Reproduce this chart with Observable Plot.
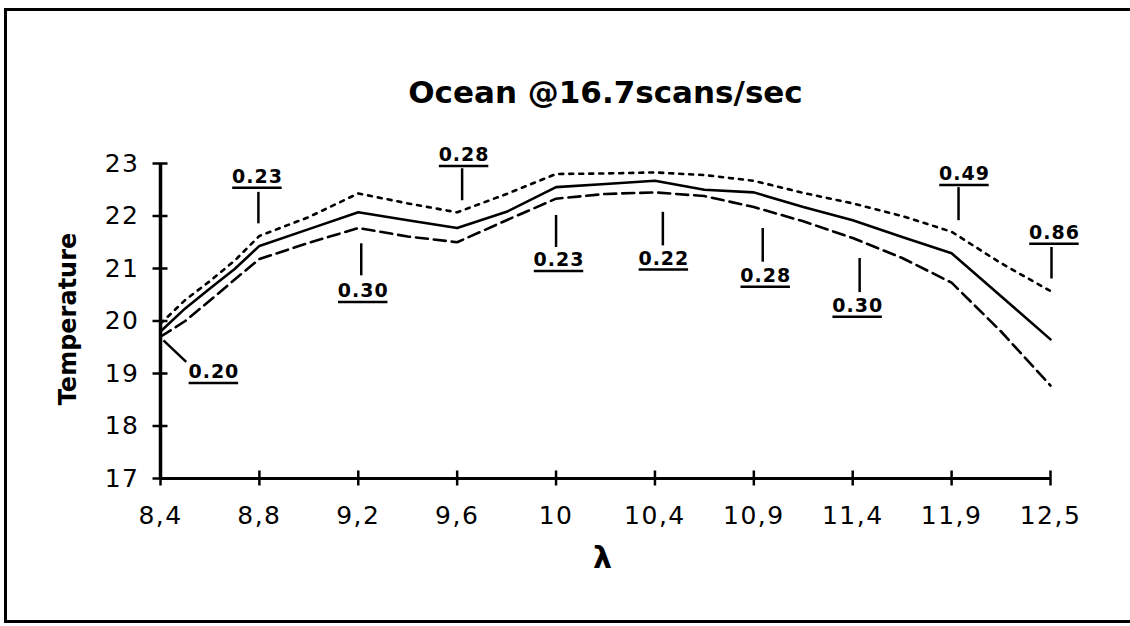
<!DOCTYPE html>
<html><head><meta charset="utf-8">
<script src="https://cdn.jsdelivr.net/npm/d3@7"></script>
<script src="https://cdn.jsdelivr.net/npm/@observablehq/plot@0.6"></script>
<style>
html,body{margin:0;padding:0;background:#fff;}
#wrap{position:relative;width:1130px;height:626px;overflow:hidden;background:#fff;}
#border{position:absolute;left:4px;top:8px;width:1200px;height:615px;border:3px solid #000;box-sizing:border-box;pointer-events:none;}
g[aria-label="x-axis tick label"] text, g[aria-label="y-axis tick label"] text { letter-spacing: 1.5px; }
.annot text { letter-spacing: 1px; }
</style></head>
<body><div id="wrap"><div id="chart"></div><div id="border"></div></div>
<script>
const title = "Ocean @16.7scans/sec";
const xLabel = "λ";
const yLabel = "Temperature";
const tickLabels = ["8,4","8,8","9,2","9,6","10","10,4","10,9","11,4","11,9","12,5"];
const yTicks = [17,18,19,20,21,22,23];
const xIdx   = [0,0.25,0.5,0.75,1,1.5,2,2.5,3,3.5,4,4.5,5,5.5,6,6.5,7,7.5,8,8.5,9];
const solid  = [19.8,20.24,20.62,20.99,21.43,21.75,22.07,21.92,21.77,22.08,22.55,22.61,22.67,22.5,22.45,22.17,21.92,21.6,21.29,20.47,19.65];
const dotted = [19.95,20.4,20.76,21.15,21.62,21.98,22.43,22.24,22.07,22.42,22.8,22.81,22.83,22.78,22.67,22.44,22.24,22.0,21.7,21.1,20.57];
const dashed = [19.7,20.0,20.39,20.79,21.18,21.49,21.77,21.61,21.5,21.92,22.33,22.42,22.45,22.38,22.17,21.9,21.58,21.2,20.73,19.8,18.77];

const annLabels = ["0.20","0.23","0.30","0.28","0.23","0.22","0.28","0.30","0.49","0.86"];
const annX      = [0.54,0.98,2.05,3.07,4.03,5.09,6.12,7.05,8.13,9.04];
const annY      = [19.03,22.75,20.57,23.16,21.16,21.19,20.86,20.29,22.8,21.68];
const leadX1    = [0.03,0.99,2.03,3.05,4.0,5.08,6.09,7.07,8.07,9.01];
const leadY1    = [19.63,22.46,21.48,22.91,22.02,22.08,21.77,21.2,22.55,21.41];
const leadX2    = [0.26,0.99,2.03,3.05,4.0,5.08,6.09,7.07,8.07,9.01];
const leadY2    = [19.22,21.86,20.87,22.30,21.41,21.44,21.13,20.55,21.92,20.81];

const series = [
  {name: "solid", values: solid, dash: null},
  {name: "dotted", values: dotted, dash: "4,6"},
  {name: "dashed", values: dashed, dash: "12,6"}
];
const ann = annLabels.map((t, i) => ({t, x: annX[i], y: annY[i], x1: leadX1[i], y1: leadY1[i], x2: leadX2[i], y2: leadY2[i]}));

const lineMarks = series.map(s => Plot.line(xIdx.map((x, i) => ({x, y: s.values[i]})), {
  x: "x", y: "y", stroke: "#000", strokeWidth: 2.6, strokeDasharray: s.dash, strokeLinejoin: "round", curve: "linear"
}));

const chart = Plot.plot({
  width: 1130, height: 626,
  marginLeft: 160, marginRight: 80, marginTop: 163, marginBottom: 148,
  style: {fontFamily: "DejaVu Sans", fontSize: "25px", color: "#000", background: "transparent", overflow: "visible"},
  x: {domain: [0, 9], axis: null},
  y: {domain: [17, 23], axis: null},
  marks: [
    Plot.ruleX([0], {stroke: "#000", strokeWidth: 3.5}),
    Plot.ruleY([17], {stroke: "#000", strokeWidth: 3}),
    Plot.axisY({ticks: yTicks, tickSize: 15, dx: 7.5, fill: "none", stroke: "#000", strokeWidth: 2.5, label: null}),
    Plot.axisY({ticks: yTicks, tickSize: 0, tickPadding: 21, fontSize: 25, tickFormat: d => String(d), label: null}),
    Plot.axisX({ticks: d3.range(tickLabels.length), tickSize: 15, dy: -7.5, fill: "none", stroke: "#000", strokeWidth: 2.5, label: null}),
    Plot.axisX({ticks: d3.range(tickLabels.length), tickSize: 0, tickPadding: 28, fontSize: 25, tickFormat: i => tickLabels[i], label: null}),
    ...lineMarks,
    Plot.link(ann, {x1: "x1", y1: "y1", x2: "x2", y2: "y2", stroke: "#000", strokeWidth: 2.5}),
    Plot.text(ann, {x: "x", y: "y", text: "t", fontSize: 19, fontWeight: "bold", lineAnchor: "middle", className: "annot"}),
    Plot.ruleY(ann, {y: "y", x1: d => d.x - 0.25, x2: d => d.x + 0.25, dy: 11, stroke: "#000", strokeWidth: 2.5}),
    Plot.text([title], {frameAnchor: "top", dy: -83, fontSize: 31, fontWeight: "bold"}),
    Plot.text([xLabel], {frameAnchor: "bottom", dy: 89, dx: -3, fontSize: 30, fontWeight: "bold"}),
    Plot.text([yLabel], {frameAnchor: "left", textAnchor: "middle", dx: -92, dy: -2, rotate: -90, fontSize: 24, fontWeight: "bold"})
  ]
});
document.getElementById("chart").appendChild(chart);
</script>
</body></html>
